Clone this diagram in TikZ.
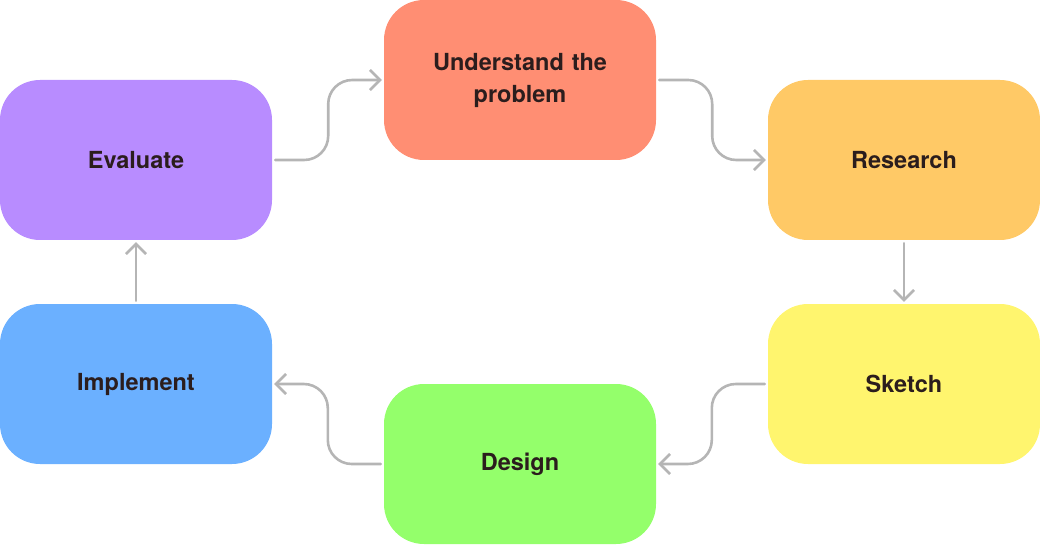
\documentclass[tikz,border=0pt]{standalone}
\usepackage{fontspec}
\setmainfont{TeX Gyre Heros}
\usetikzlibrary{positioning,arrows.meta}
\definecolor{evalc}{HTML}{B88CFF}
\definecolor{undc}{HTML}{FF8E73}
\definecolor{resc}{HTML}{FFC966}
\definecolor{skc}{HTML}{FFF56E}
\definecolor{desc}{HTML}{94FF6B}
\definecolor{impc}{HTML}{6BB0FF}
\definecolor{linkc}{HTML}{B5B5B5}
\definecolor{txtc}{HTML}{2B1D1D}

\begin{document}
\begin{tikzpicture}[x=1pt, y=1pt, line cap=round, line join=round]
  % styles
  \tikzset{
    stage/.style={minimum width=272pt, minimum height=160pt, rounded corners=40pt,
      inner sep=0pt, text width=250pt, align=center, text=txtc,
      font=\bfseries\fontsize{23.5}{32}\selectfont},
    flow/.style={draw=linkc, line width=2.6pt, rounded corners=24pt,
      -{Straight Barb[length=10pt,width=20pt]}, shorten <=3pt, shorten >=2pt}
  }

  % ----- canvas -----
  \useasboundingbox (0,0) rectangle (1040,544);

  % ----- stages -----
  \node[stage, fill=evalc] (eval) at (136,384) {Evaluate};
  \node[stage, fill=undc]  (und)  at (520,464) {Understand the\\problem};
  \node[stage, fill=resc]  (res)  at (904,384) {Research};
  \node[stage, fill=skc]   (sk)   at (904,160) {Sketch};
  \node[stage, fill=desc]  (des)  at (520,80)  {Design};
  \node[stage, fill=impc]  (imp)  at (136,160) {Implement};

  % ----- links -----
  \draw[flow] (eval.east) -- ++(56,0) |- (und.west);
  \draw[flow] (und.east)  -- ++(56,0) |- (res.west);
  \draw[flow] (res.south) -- (sk.north);
  \draw[flow] (sk.west)   -- ++(-56,0) |- (des.east);
  \draw[flow] (des.west)  -- ++(-56,0) |- (imp.east);
  \draw[flow] (imp.north) -- (eval.south);
\end{tikzpicture}
\end{document}
